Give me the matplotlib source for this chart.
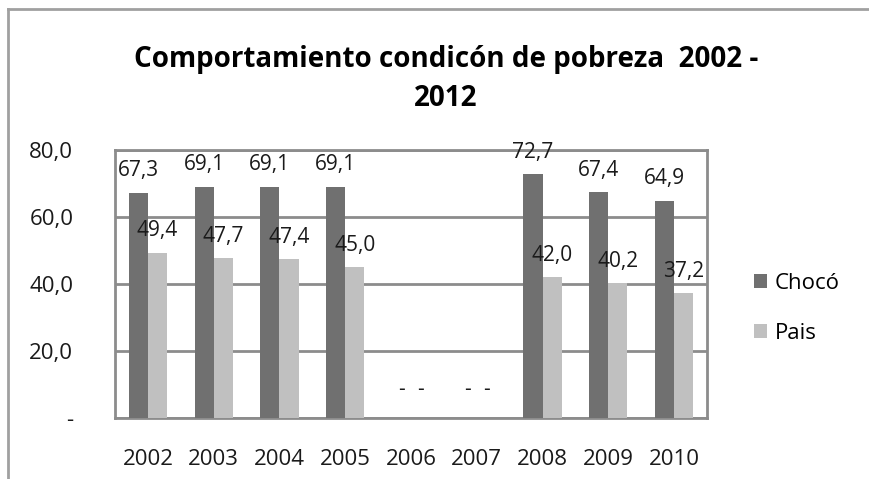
import numpy as np
import matplotlib.pyplot as plt
from matplotlib.lines import Line2D

plt.rcParams['font.family'] = ['Open Sans', 'DejaVu Sans']

# datos
anios = ['2002', '2003', '2004', '2005', '2006', '2007', '2008', '2009', '2010']
choco = [67.3, 69.1, 69.1, 69.1, 0, 0, 72.7, 67.4, 64.9]
pais = [49.4, 47.7, 47.4, 45.0, 0, 0, 42.0, 40.2, 37.2]
ticks_y = [0, 20, 40, 60, 80]
etiquetas_y = ['-', '20,0', '40,0', '60,0', '80,0']

color_choco = '#707070'
color_pais = '#c0c0c0'
color_grid = '#8c8c8c'


def fmt(v):
    if v == 0:
        return '-'
    return f'{v:.1f}'.replace('.', ',')


fig = plt.figure(figsize=(8.7, 4.79), dpi=100)
ax = fig.add_axes([115 / 870, 61 / 479, 592 / 870, 268 / 479])

x = np.arange(len(anios))
ancho = 0.29
b1 = ax.bar(x - ancho / 2, choco, ancho, color=color_choco, label='Chocó', zorder=3)
b2 = ax.bar(x + ancho / 2, pais, ancho, color=color_pais, label='Pais', zorder=3)

for barras, valores in ((b1, choco), (b2, pais)):
    for b, v in zip(barras, valores):
        ax.annotate(fmt(v), (b.get_x() + b.get_width() / 2, v),
                    xytext=(0, 8 if v > 0 else 13), textcoords='offset points',
                    ha='center', va='bottom', fontsize=15, color='#1a1a1a', zorder=4)

ax.set_xlim(-0.5, len(anios) - 0.5)
ax.set_ylim(0, 80)
ax.set_yticks(ticks_y)
ax.set_yticklabels(etiquetas_y, fontsize=16)
ax.set_xticks(x)
ax.set_xticklabels(anios, fontsize=16)
ax.tick_params(axis='both', length=0, colors='#1a1a1a')
ax.tick_params(axis='y', pad=30)
ax.tick_params(axis='x', pad=22)
ax.grid(axis='y', color=color_grid, linewidth=2, zorder=0)
for s in ax.spines.values():
    s.set_color(color_grid)
    s.set_linewidth(2)

fig.text(446 / 870, 1 - 60 / 479, 'Comportamiento condicón de pobreza  2002 -',
         ha='center', va='center', fontsize=20, fontweight='bold')
fig.text(446 / 870, 1 - 99 / 479, '2012',
         ha='center', va='center', fontsize=20, fontweight='bold')

leg = ax.legend(loc='center left', bbox_to_anchor=(1.045, 0.41), frameon=False,
                fontsize=16, handlelength=0.6, handleheight=0.6, handletextpad=0.35,
                labelspacing=1.3)

# borde exterior (solo arriba e izquierda visibles)
fig.add_artist(Line2D([8 / 870, 1], [1 - 9 / 479, 1 - 9 / 479], color='#a0a0a0', linewidth=2))
fig.add_artist(Line2D([8 / 870, 8 / 870], [0, 1 - 9 / 479], color='#a0a0a0', linewidth=2))

fig.savefig('out.png', dpi=100, facecolor='white')
